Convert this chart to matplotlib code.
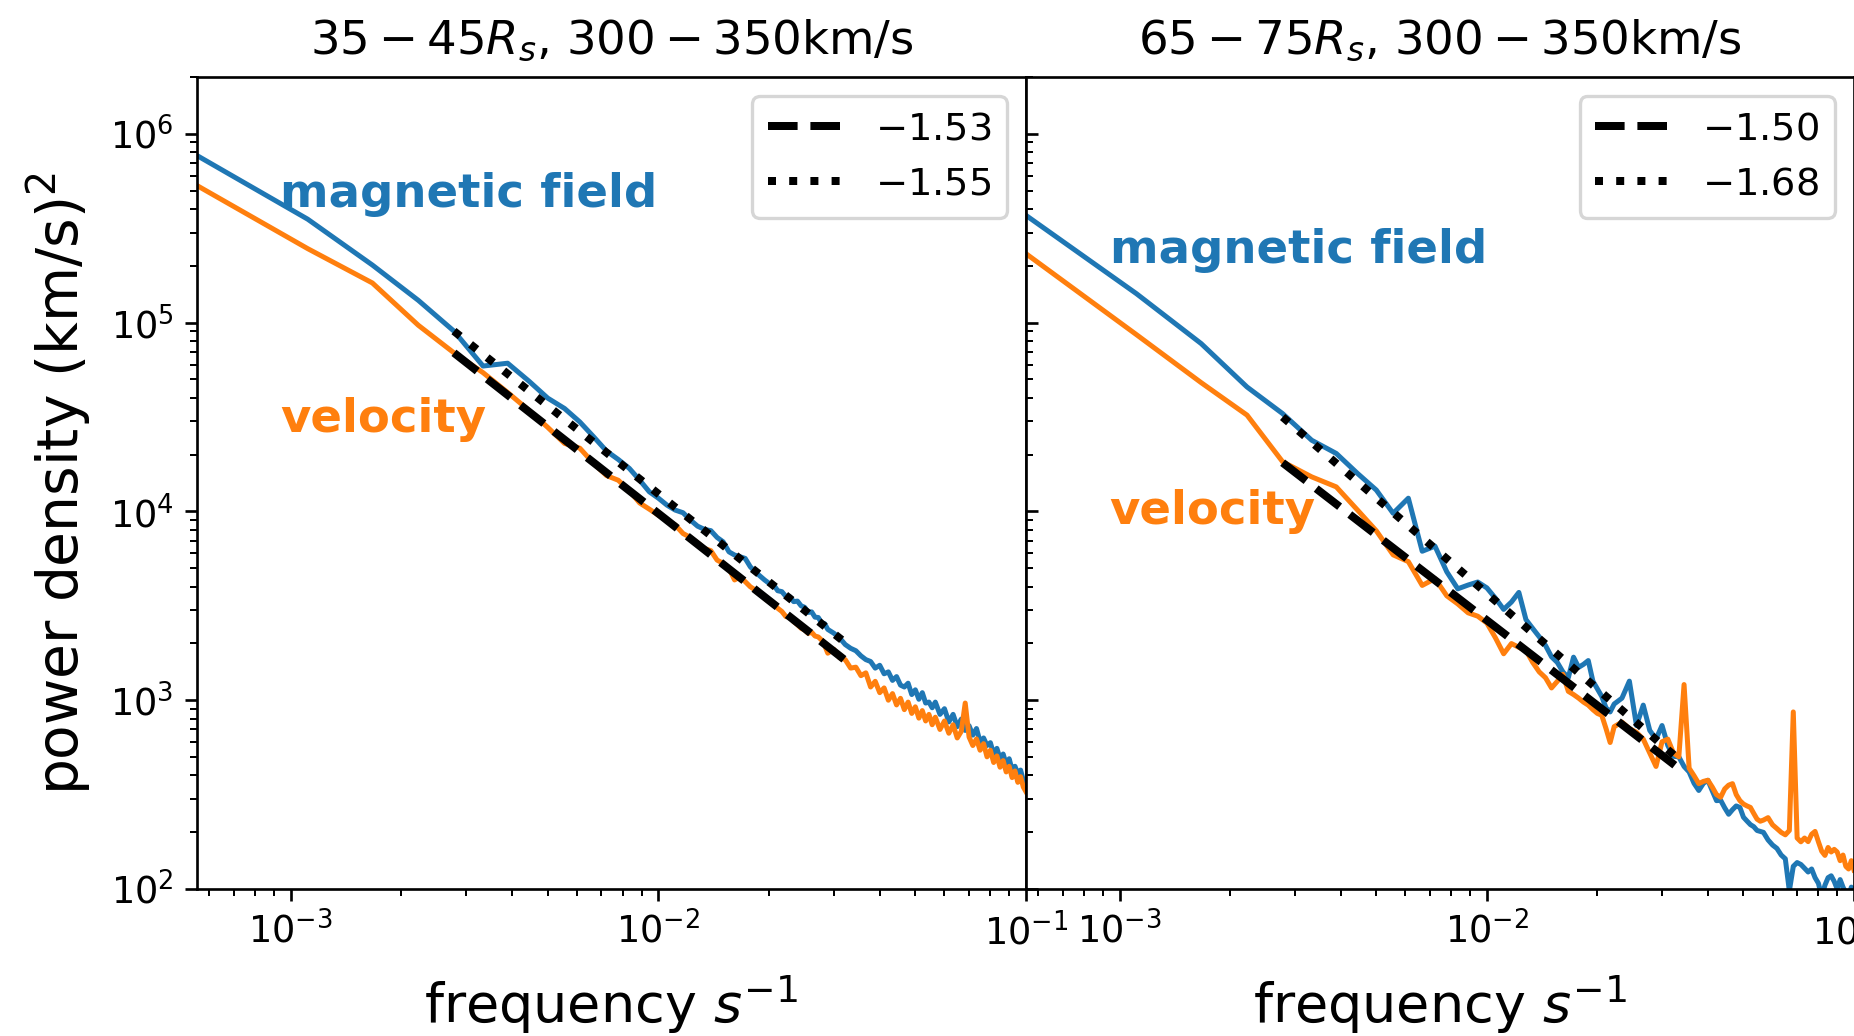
import numpy as np
import matplotlib
matplotlib.use("Agg")
import matplotlib.pyplot as plt

# ---------------- data ----------------
F0 = 1.0 / 1800.0          # frequency resolution (Hz)

left_bins = [1, 2, 3, 4, 5, 6, 7, 8, 9, 10, 11, 12, 13, 14, 15, 16, 17, 18, 19, 20,
             21, 22, 23, 24, 25, 26, 27, 28, 29, 30, 31, 32, 33, 34, 35, 36, 37, 38, 39, 40,
             41, 42, 43, 44, 45, 46, 47, 48, 49, 50, 51, 52,
             54, 56, 58, 60, 62, 64, 66, 68, 70, 72, 74, 76, 78, 80, 82, 84, 86, 88, 90, 92,
             94, 96, 98, 100,
             102, 105, 108, 111, 114, 117, 120, 123, 126, 129, 132, 135, 138, 141, 144, 147,
             150, 153, 156, 159, 162, 165, 168, 171, 174, 177, 180]

# log10 of power density
left_mag_log = [5.885, 5.548, 5.305, 5.118, 4.955, 4.770, 4.785, 4.690, 4.600, 4.545,
                4.474, 4.395, 4.320, 4.275, 4.228, 4.166, 4.104, 4.070, 4.033, 4.007,
                3.993, 3.954, 3.922, 3.905, 3.898, 3.862, 3.839, 3.786, 3.769, 3.760,
                3.751, 3.707, 3.680, 3.658, 3.637, 3.619, 3.612, 3.580, 3.575, 3.550,
                3.548, 3.522, 3.525, 3.500, 3.492, 3.465, 3.468, 3.440, 3.438, 3.410,
                3.405, 3.375,
                3.355, 3.330, 3.295, 3.275, 3.262, 3.235, 3.215, 3.205, 3.170, 3.185,
                3.140, 3.150, 3.105, 3.125, 3.080, 3.070, 3.090, 3.030, 3.055, 3.005,
                3.040, 2.985, 2.990, 2.960,
                2.990, 2.925, 2.955, 2.885, 2.925, 2.860, 2.900, 2.840, 2.865, 2.815,
                2.850, 2.780, 2.800, 2.760, 2.775, 2.715, 2.745, 2.690, 2.715, 2.660,
                2.690, 2.630, 2.650, 2.610, 2.630, 2.575, 2.565]

left_vel_log = [5.726, 5.392, 5.210, 4.986, 4.840, 4.735, 4.630, 4.535, 4.445, 4.360,
                4.335, 4.254, 4.190, 4.165, 4.110, 4.045, 4.012, 3.980, 3.954, 3.928,
                3.883, 3.862, 3.834, 3.804, 3.792, 3.742, 3.725, 3.698, 3.637, 3.654,
                3.628, 3.601, 3.584, 3.566, 3.540, 3.522, 3.510, 3.487, 3.470, 3.443,
                3.440, 3.416, 3.400, 3.381, 3.372, 3.354, 3.360, 3.340, 3.335, 3.319,
                3.290, 3.249,
                3.270, 3.225, 3.215, 3.170, 3.175, 3.130, 3.145, 3.070, 3.100, 3.040,
                3.065, 3.000, 3.035, 2.975, 3.010, 2.950, 2.990, 2.930, 2.965, 2.905,
                2.945, 2.890, 2.925, 2.870,
                2.910, 2.845, 2.890, 2.825, 2.870, 2.800, 2.835, 2.985, 2.805, 2.760,
                2.795, 2.735, 2.770, 2.700, 2.735, 2.670, 2.705, 2.645, 2.680, 2.620,
                2.650, 2.590, 2.625, 2.565, 2.595, 2.540, 2.515]

right_bins = [1, 2, 3, 4, 5, 6, 7, 8, 9, 10, 11, 12, 13, 14, 15, 16, 17, 18, 19, 20,
              21, 22, 23, 24, 25, 26, 27, 28, 29, 30, 31, 32, 33, 34, 35, 36, 37, 38, 39, 40,
              42, 44, 46, 48, 50, 52, 54, 56, 58, 60, 62, 64, 66, 68, 70, 72, 74, 76, 78, 80,
              82, 84, 86, 88, 90, 92, 94, 96, 98, 100,
              102, 105, 108, 111, 114, 117, 120, 123, 126, 129, 132, 135, 138, 141, 144, 147,
              150, 153, 156, 159, 162, 165, 168, 171, 174, 177, 180]

right_mag_log = [5.568, 5.153, 4.889, 4.659, 4.518, 4.377, 4.307, 4.201, 4.113, 3.990,
                 4.070, 3.789, 3.816, 3.680, 3.590, 3.610, 3.626, 3.595, 3.540, 3.481,
                 3.520, 3.571, 3.427, 3.380, 3.336, 3.290, 3.230, 3.200, 3.150, 3.119,
                 3.228, 3.174, 3.190, 3.210, 3.101, 3.060, 3.020, 2.960, 2.938, 2.980,
                 3.011, 3.101, 2.866, 2.974, 2.840, 2.794, 2.866, 2.760, 2.703, 2.700,
                 2.649, 2.620, 2.560, 2.522, 2.560, 2.576, 2.520, 2.468, 2.470, 2.430,
                 2.396, 2.420, 2.440, 2.432, 2.380, 2.360, 2.341, 2.330, 2.310, 2.305,
                 2.300, 2.260, 2.233, 2.215, 2.180, 2.160, 1.990, 2.120, 2.140, 2.130,
                 2.110, 2.090, 2.106, 2.060, 2.030, 1.960, 2.020, 2.060, 2.070, 2.040,
                 2.000, 2.050, 2.010, 1.980, 1.960, 2.010, 1.990]

right_vel_log = [5.365, 4.936, 4.682, 4.510, 4.263, 4.183, 4.130, 4.007, 3.897, 3.770,
                 3.734, 3.608, 3.644, 3.553, 3.510, 3.463, 3.445, 3.409, 3.330, 3.246,
                 3.300, 3.280, 3.264, 3.200, 3.150, 3.119, 3.065, 3.100, 3.137, 3.047,
                 3.030, 3.011, 2.990, 2.974, 2.950, 2.930, 2.920, 2.850, 2.776, 2.860,
                 2.884, 2.850, 2.830, 2.794, 2.720, 2.649, 2.780, 2.794, 2.721, 2.700,
                 3.083, 2.640, 2.600, 2.558, 2.570, 2.576, 2.540, 2.500, 2.486, 2.530,
                 2.550, 2.558, 2.500, 2.468, 2.450, 2.440, 2.432, 2.400, 2.370, 2.359,
                 2.365, 2.378, 2.340, 2.320, 2.300, 2.287, 2.310, 2.938, 2.270, 2.250,
                 2.270, 2.251, 2.290, 2.305, 2.250, 2.200, 2.178, 2.220, 2.196, 2.210,
                 2.196, 2.150, 2.180, 2.120, 2.106, 2.150, 2.100]

titles = [r"$35-45R_s$, $300-350$km/s", r"$65-75R_s$, $300-350$km/s"]

# power-law fits: frequency range, start values (log10) and slopes
fit_range = [5 * F0, 0.0325]
left_fit_start_log = [4.840, 4.955]     # velocity (dashed), magnetic (dotted)
left_fit_slopes = [-1.53, -1.55]
right_fit_start_log = [4.258, 4.500]
right_fit_slopes = [-1.50, -1.68]

xlim = (F0, 0.1)
ylim = (1e2, 2e6)

# ---------------- figure ----------------
DPI = 240
fig = plt.figure(figsize=(1854 / DPI, 1036 / DPI), dpi=DPI)
ax1 = fig.add_axes([0.10626, 0.14189, 0.44714, 0.78379])
ax2 = fig.add_axes([0.55340, 0.14189, 0.44660, 0.78379], sharey=ax1)

panels = [
    (ax1, left_bins, left_mag_log, left_vel_log, left_fit_start_log, left_fit_slopes,
     titles[0], (0.100, 0.840), (0.100, 0.563)),
    (ax2, right_bins, right_mag_log, right_vel_log, right_fit_start_log, right_fit_slopes,
     titles[1], (0.101, 0.771), (0.101, 0.450)),
]

for ax, bins, mag_log, vel_log, fit_start, slopes, title, mpos, vpos in panels:
    f = np.array(bins) * F0
    ax.loglog(f, 10 ** np.array(mag_log), color="C0", lw=1.5)
    ax.loglog(f, 10 ** np.array(vel_log), color="C1", lw=1.5)
    fx = np.array(fit_range)
    v_fit = 10 ** fit_start[0] * (fx / fx[0]) ** slopes[0]
    b_fit = 10 ** fit_start[1] * (fx / fx[0]) ** slopes[1]
    ax.loglog(fx, v_fit, color="black", ls="--", lw=2.4, label=r"$%.2f$" % slopes[0])
    ax.loglog(fx, b_fit, color="black", ls=":", lw=2.4, label=r"$%.2f$" % slopes[1])
    ax.set_xlim(*xlim)
    ax.set_ylim(*ylim)
    ax.set_title(title, fontsize=14, pad=7)
    ax.set_xlabel(r"frequency $s^{-1}$", fontsize=16.2, labelpad=6.5)
    ax.tick_params(axis="both", which="major", labelsize=11)
    ax.legend(loc="upper right", fontsize=11.5)
    ax.text(mpos[0], mpos[1], "magnetic field", color="C0", fontsize=14,
            fontweight="bold", transform=ax.transAxes, ha="left", va="baseline")
    ax.text(vpos[0], vpos[1], "velocity", color="C1", fontsize=14,
            fontweight="bold", transform=ax.transAxes, ha="left", va="baseline")

ax1.set_ylabel(r"power density (km/s)$^2$", fontsize=17, labelpad=5)
ax2.tick_params(axis="y", which="both", labelleft=False, direction="in")

fig.savefig("out.png", dpi=DPI)
